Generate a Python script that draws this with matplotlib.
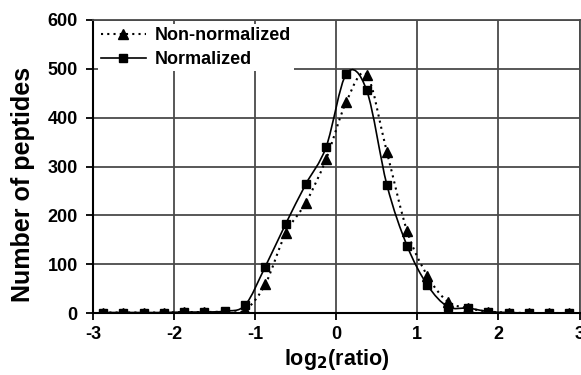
import numpy as np
import matplotlib
matplotlib.use("Agg")
import matplotlib.pyplot as plt
from matplotlib.path import Path
from matplotlib.patches import PathPatch
from matplotlib.lines import Line2D

log2_ratio = [-2.875, -2.625, -2.375, -2.125, -1.875, -1.625, -1.375, -1.125,
              -0.875, -0.625, -0.375, -0.125, 0.125, 0.375, 0.625, 0.875,
              1.125, 1.375, 1.625, 1.875, 2.125, 2.375, 2.625, 2.875]
non_normalized = [1, 1, 1, 1, 2, 2, 3, 6,
                  59, 163, 226, 315, 433, 488, 329, 167,
                  76, 23, 10, 3, 1, 0, 0, 0]
normalized = [1, 1, 1, 1, 2, 2, 4, 16,
              95, 182, 264, 340, 490, 456, 262, 137,
              57, 13, 10, 3, 1, 0, 0, 0]
x_ticks = [-3, -2, -1, 0, 1, 2, 3]
y_ticks = [0, 100, 200, 300, 400, 500, 600]

plt.rcParams['font.family'] = ['Liberation Sans', 'DejaVu Sans']
plt.rcParams['font.weight'] = 'bold'

fig = plt.figure(figsize=(5.81, 3.75), dpi=100)
ax = fig.add_axes([0.160, 0.1653, 0.9975 - 0.160, 0.9467 - 0.1653])


def smooth_path(xs, ys):
    pts = np.column_stack([xs, ys]).astype(float)
    n = len(pts)
    verts = [pts[0]]
    codes = [Path.MOVETO]
    for i in range(n - 1):
        p0 = pts[i - 1] if i > 0 else pts[i]
        p1 = pts[i]
        p2 = pts[i + 1]
        p3 = pts[i + 2] if i + 2 < n else pts[i + 1]
        c1 = p1 + (p2 - p0) / 6.0
        c2 = p2 - (p3 - p1) / 6.0
        verts += [c1, c2, p2]
        codes += [Path.CURVE4] * 3
    return Path(verts, codes)


grid_col = '#4a4a4a'
ax.set_xlim(-3, 3)
ax.set_ylim(0, 600)
ax.set_xticks(x_ticks)
ax.set_yticks(y_ticks)
ax.grid(True, color=grid_col, linewidth=1.3, zorder=0)
ax.set_axisbelow(True)

ax.add_patch(PathPatch(smooth_path(log2_ratio, non_normalized), fill=False,
                       edgecolor='black', linewidth=1.5, linestyle=(0, (1, 2)),
                       zorder=3))
ax.add_patch(PathPatch(smooth_path(log2_ratio, normalized), fill=False,
                       edgecolor='black', linewidth=1.2, zorder=3))
ax.plot(log2_ratio, non_normalized, linestyle='none', marker='^',
        markersize=6.5, color='black', zorder=4)
ax.plot(log2_ratio, normalized, linestyle='none', marker='s',
        markersize=5.5, color='black', zorder=4)

for s in ['left', 'bottom']:
    ax.spines[s].set_color('black')
    ax.spines[s].set_linewidth(1.5)
for s in ['top', 'right']:
    ax.spines[s].set_color(grid_col)
    ax.spines[s].set_linewidth(1.3)

ax.tick_params(axis='both', direction='out', length=5, width=1.3,
               labelsize=13, color='black')
ax.tick_params(axis='x', pad=4)
ax.tick_params(axis='y', pad=6)
ax.set_xticklabels([str(t) for t in x_ticks])
ax.set_yticklabels([str(t) for t in y_ticks])

ax.set_xlabel('log$_\\mathbf{2}$(ratio)', fontsize=15.5, fontweight='bold', labelpad=3)
ax.set_ylabel('Number of peptides', fontsize=18, fontweight='bold')
ax.yaxis.set_label_coords(-0.12, 0.44)

handles = [
    Line2D([], [], color='black', linestyle=(0, (1, 2)), linewidth=1.5,
           marker='^', markersize=6.5),
    Line2D([], [], color='black', linestyle='-', linewidth=1.2,
           marker='s', markersize=5.5),
]
leg = ax.legend(handles, ['Non-normalized', 'Normalized'], loc='upper left',
                bbox_to_anchor=(0.005, 0.995),
                frameon=True, facecolor='white', edgecolor='none', framealpha=1,
                handlelength=2.5, handletextpad=0.5,
                borderaxespad=0.15, borderpad=0.15, labelspacing=0.4,
                prop={'weight': 'bold', 'size': 13})
leg.get_frame().set_boxstyle('square', pad=0)

fig.savefig('out.png', dpi=100)
